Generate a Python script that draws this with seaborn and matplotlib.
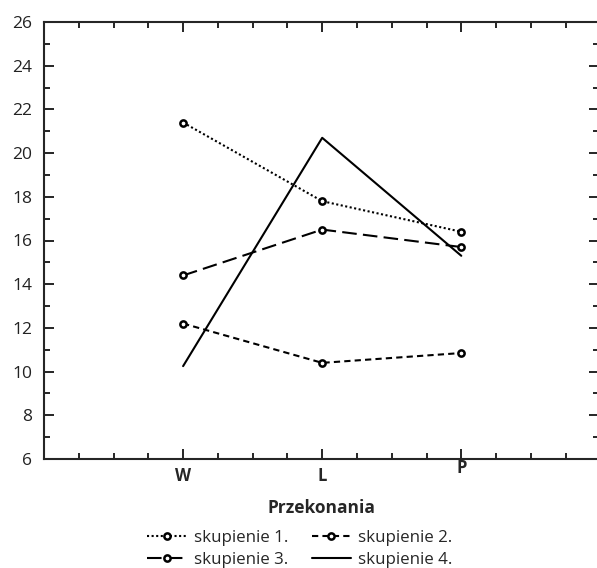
import matplotlib
matplotlib.use("Agg")
import matplotlib.pyplot as plt
import matplotlib.transforms as mtransforms
from matplotlib.ticker import MultipleLocator
import seaborn as sns
import pandas as pd

categories = ["W", "L", "P"]
s1 = [21.4, 17.8, 16.4]
s2 = [12.2, 10.4, 10.85]
s3 = [14.4, 16.5, 15.7]
s4 = [10.25, 20.7, 15.3]
series_names = ["skupienie 1.", "skupienie 2.", "skupienie 3.", "skupienie 4."]
y_ticks = [6, 8, 10, 12, 14, 16, 18, 20, 22, 24, 26]

sns.set_style("ticks")
plt.rcParams["font.family"] = ["Open Sans", "DejaVu Sans"]

fig = plt.figure(figsize=(5.97, 5.68), dpi=100)
ax = fig.add_axes([44 / 597, 1 - 459 / 568, 555 / 597, 437 / 568])

styles = [
    dict(linestyle=(0, (1, 1.2)), marker="o"),
    dict(linestyle=(0, (3, 2)), marker="o"),
    dict(linestyle=(0, (7, 3)), marker="o"),
    dict(linestyle="-", marker=None),
]
for name, vals, st in zip(series_names, [s1, s2, s3, s4], styles):
    df = pd.DataFrame({"x": categories, "y": vals})
    kw = dict(color="black", linewidth=1.5, linestyle=st["linestyle"], label=name)
    if st["marker"]:
        kw.update(marker="o", markersize=4.5, markerfacecolor="white",
                  markeredgecolor="black", markeredgewidth=1.8)
    sns.lineplot(data=df, x="x", y="y", ax=ax, sort=False, **kw)

ax.set_xlim(-1, 2.99)
ax.set_ylim(6, 26)
ax.set_yticks(y_ticks)
ax.yaxis.set_minor_locator(MultipleLocator(1))
ax.set_xticks([0, 1, 2])
ax.set_xticklabels(categories, fontweight="bold", fontsize=12)
ax.xaxis.set_minor_locator(MultipleLocator(0.25))
for s in ax.spines.values():
    s.set_visible(True)
    s.set_linewidth(1.5)
ax.tick_params(which="both", direction="in", top=True, right=True, width=1.2, color="black")
ax.tick_params(which="major", length=7)
ax.tick_params(which="minor", length=4)
ax.tick_params(axis="y", labelsize=12.5, pad=8.5, labelcolor="#222222")
ax.tick_params(axis="x", pad=6)

# P label sits slightly higher in the reference
lbls = ax.get_xticklabels()
lbls[2].set_transform(lbls[2].get_transform() + mtransforms.ScaledTranslation(0, 6 / 72, fig.dpi_scale_trans))

ax.set_xlabel("Przekonania", fontweight="bold", fontsize=12.5, va="baseline")
ax.xaxis.set_label_coords(0.5, (459 - 513) / 437)
ax.set_ylabel("")

handles, labels = ax.get_legend_handles_labels()
order = [0, 2, 1, 3]
fig.legend([handles[i] for i in order], [labels[i] for i in order],
           loc="center", bbox_to_anchor=(300 / 597, 1 - 549 / 568), ncol=2,
           frameon=False, fontsize=12.2, handlelength=2.3, handletextpad=0.45,
           columnspacing=1.4, labelspacing=0.35, borderpad=0)
if ax.get_legend() is not None:
    ax.get_legend().remove()

fig.savefig("out.png", dpi=100)
